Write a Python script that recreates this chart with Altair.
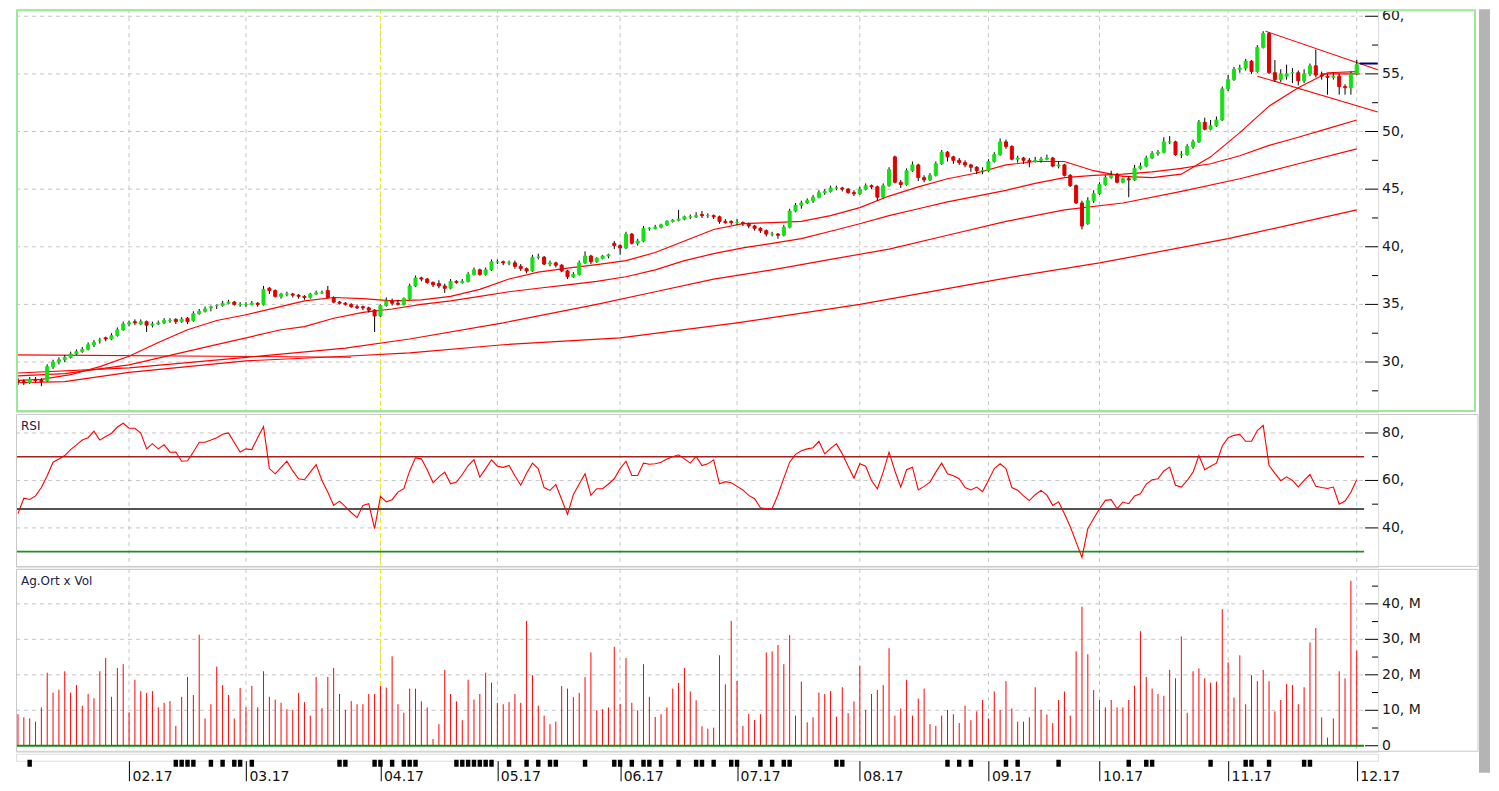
import altair as alt
import pandas as pd

# ---------------- data ----------------
opens = [28.4, 28.3, 28.2, 28.5, 28.4, 28.4, 29.6, 30.0, 30.2, 30.4,
         30.7, 30.9, 31.1, 31.5, 31.9, 32.1, 32.0, 32.3, 32.8, 33.3,
         33.5, 33.3, 33.5, 33.2, 33.3, 33.4, 33.6, 33.7, 33.5, 33.8,
         33.6, 34.2, 34.4, 34.7, 34.9, 34.9, 35.1, 35.2, 35.0, 35.0,
         35.0, 35.1, 35.0, 36.4, 36.2, 35.7, 35.9, 35.9, 35.8, 35.7,
         35.6, 35.9, 36.0, 36.2, 35.6, 35.2, 35.1, 35.0, 34.8, 34.8,
         34.7, 34.5, 34.0, 34.9, 35.3, 35.1, 35.0, 35.5, 36.6, 37.3,
         37.2, 36.9, 36.8, 36.6, 36.4, 37.0, 36.9, 37.0, 37.6, 38.0,
         37.6, 38.0, 38.7, 38.7, 38.6, 38.6, 38.3, 38.1, 37.9, 39.1,
         39.1, 38.5, 38.6, 38.4, 37.9, 37.4, 37.6, 38.6, 39.2, 38.7,
         39.0, 39.2, 40.3, 40.1, 39.9, 41.1, 40.3, 40.5, 41.6, 41.6,
         41.7, 41.9, 42.2, 42.3, 42.4, 42.6, 42.6, 42.8, 42.7, 42.7,
         42.6, 42.2, 42.2, 42.1, 42.1, 42.0, 41.8, 41.6, 41.4, 41.1,
         41.1, 41.0, 41.7, 43.1, 43.6, 43.8, 44.0, 44.3, 44.7, 44.8,
         45.1, 45.1, 45.0, 44.7, 44.6, 45.0, 45.3, 45.2, 44.3, 45.3,
         47.8, 45.6, 45.4, 46.6, 47.1, 46.0, 45.8, 46.2, 47.2, 48.2,
         47.8, 47.5, 47.3, 47.1, 46.9, 46.6, 46.6, 47.4, 48.0, 49.1,
         48.7, 47.6, 47.7, 47.5, 47.4, 47.5, 47.6, 47.7, 47.0, 47.1,
         46.2, 45.3, 43.8, 42.0, 44.0, 44.6, 45.4, 46.0, 46.2, 45.6,
         45.9, 45.8, 46.8, 47.0, 47.7, 48.1, 48.2, 49.1, 49.1, 48.0,
         48.0, 48.7, 49.1, 50.8, 50.2, 50.5, 51.0, 53.7, 54.5, 55.4,
         55.5, 56.1, 55.2, 57.3, 58.5, 55.1, 54.5, 54.8, 55.1, 55.1,
         54.4, 55.0, 55.7, 54.9, 54.8, 54.7, 54.8, 53.9, 53.8, 55.0]
highs = [28.6, 28.5, 28.7, 28.7, 28.6, 29.8, 30.2, 30.4, 30.6, 30.9,
         31.1, 31.3, 31.7, 31.9, 32.1, 32.2, 32.5, 33.0, 33.5, 33.6,
         33.7, 33.7, 33.6, 33.5, 33.6, 33.8, 33.8, 33.8, 33.9, 33.9,
         34.4, 34.6, 34.8, 34.9, 35.0, 35.3, 35.4, 35.3, 35.2, 35.2,
         35.3, 35.2, 36.6, 36.5, 36.3, 36.0, 36.1, 36.0, 35.9, 35.8,
         36.0, 36.2, 36.2, 36.6, 35.7, 35.3, 35.2, 35.1, 35.0, 34.9,
         34.8, 34.6, 35.0, 35.6, 35.5, 35.4, 35.6, 36.8, 37.5, 37.4,
         37.3, 37.0, 37.1, 36.8, 37.2, 37.1, 37.2, 37.8, 38.2, 38.1,
         38.2, 38.9, 38.9, 38.8, 38.8, 38.8, 38.5, 38.2, 39.3, 39.4,
         39.2, 38.8, 38.7, 38.5, 38.0, 37.8, 38.8, 39.6, 39.3, 39.1,
         39.3, 39.4, 40.5, 40.2, 41.3, 41.2, 40.7, 41.8, 41.7, 41.9,
         42.0, 42.3, 42.4, 43.2, 42.7, 42.8, 43.0, 43.1, 42.9, 42.8,
         42.7, 42.4, 42.3, 42.4, 42.2, 42.1, 41.9, 41.7, 41.5, 41.3,
         41.2, 41.9, 43.3, 43.8, 44.0, 44.2, 44.5, 44.9, 45.0, 45.3,
         45.3, 45.2, 45.1, 44.9, 45.2, 45.5, 45.4, 45.3, 45.5, 46.9,
         47.9, 45.8, 46.8, 47.4, 47.2, 46.2, 46.4, 47.4, 48.4, 48.3,
         47.9, 47.7, 47.5, 47.2, 47.0, 46.9, 47.6, 48.2, 49.4, 49.3,
         48.8, 47.9, 47.8, 47.7, 47.8, 47.8, 48.0, 47.8, 47.4, 47.2,
         46.3, 45.4, 44.0, 44.3, 44.9, 45.6, 46.2, 46.6, 46.4, 46.0,
         46.1, 47.1, 47.3, 47.9, 48.3, 48.4, 49.5, 49.6, 49.2, 48.3,
         48.9, 49.3, 51.0, 51.2, 51.0, 51.3, 53.9, 54.9, 55.6, 55.8,
         56.3, 56.2, 57.5, 58.7, 58.6, 56.2, 55.4, 55.8, 55.5, 55.3,
         55.4, 55.9, 57.1, 55.2, 55.0, 55.1, 55.0, 54.1, 55.2, 56.2]
lows = [28.0, 28.0, 28.1, 28.2, 27.9, 28.3, 29.4, 29.8, 30.0, 30.3,
        30.6, 30.8, 31.0, 31.3, 31.6, 31.8, 31.9, 32.2, 32.7, 33.1,
        33.2, 33.2, 32.6, 33.0, 33.2, 33.3, 33.4, 33.3, 33.4, 33.3,
        33.5, 34.1, 34.3, 34.4, 34.6, 34.8, 35.0, 34.9, 34.8, 34.8,
        34.9, 34.8, 34.9, 35.9, 35.6, 35.5, 35.7, 35.6, 35.5, 35.4,
        35.5, 35.8, 35.9, 35.5, 35.1, 35.0, 34.9, 34.7, 34.6, 34.5,
        34.3, 32.6, 33.9, 34.8, 34.9, 34.9, 34.9, 35.4, 36.5, 37.0,
        36.8, 36.5, 36.4, 36.0, 36.3, 36.8, 36.8, 36.9, 37.5, 37.5,
        37.5, 37.9, 38.5, 38.4, 38.4, 38.1, 37.9, 37.7, 37.8, 38.9,
        38.4, 38.3, 38.2, 37.8, 37.2, 37.3, 37.5, 38.5, 38.5, 38.6,
        38.9, 39.0, 39.8, 39.3, 39.8, 40.2, 40.1, 40.4, 41.4, 41.5,
        41.6, 41.8, 42.1, 42.2, 42.3, 42.4, 42.5, 42.5, 42.5, 42.4,
        42.0, 42.0, 41.9, 41.9, 41.8, 41.6, 41.4, 41.2, 40.9, 40.9,
        40.7, 40.9, 41.6, 43.0, 43.3, 43.7, 43.8, 44.2, 44.5, 44.7,
        44.9, 44.8, 44.6, 44.4, 44.5, 44.9, 45.0, 44.0, 44.2, 45.2,
        45.5, 45.1, 45.3, 46.5, 45.7, 45.6, 45.7, 46.1, 47.1, 47.4,
        47.2, 47.1, 46.9, 46.5, 46.3, 46.3, 46.5, 47.3, 47.9, 48.5,
        47.5, 47.3, 47.2, 46.9, 47.3, 47.3, 47.5, 46.9, 46.8, 46.1,
        45.2, 43.7, 41.5, 41.9, 43.8, 44.5, 45.3, 45.9, 45.5, 45.5,
        44.3, 45.7, 46.7, 46.9, 47.6, 47.9, 48.1, 48.9, 47.9, 47.7,
        47.9, 48.5, 49.0, 50.1, 50.1, 50.4, 50.9, 53.5, 54.4, 55.1,
        55.3, 55.0, 55.1, 57.2, 55.0, 54.3, 54.3, 54.5, 54.2, 54.0,
        54.2, 54.8, 54.7, 54.5, 53.2, 54.5, 53.2, 53.2, 53.2, 54.9]
closes = [28.3, 28.2, 28.5, 28.4, 28.3, 29.6, 30.0, 30.2, 30.4, 30.7,
          30.9, 31.1, 31.5, 31.7, 31.9, 32.0, 32.3, 32.8, 33.3, 33.4,
          33.4, 33.5, 33.2, 33.3, 33.4, 33.6, 33.6, 33.5, 33.7, 33.5,
          34.2, 34.4, 34.6, 34.8, 34.9, 35.1, 35.2, 35.0, 35.0, 35.0,
          35.1, 35.0, 36.3, 36.2, 35.7, 35.9, 35.9, 35.8, 35.7, 35.6,
          35.9, 36.0, 36.0, 35.6, 35.2, 35.1, 35.0, 34.8, 34.7, 34.7,
          34.5, 34.0, 34.9, 35.3, 35.1, 35.0, 35.5, 36.6, 37.3, 37.2,
          36.9, 36.7, 36.6, 36.4, 37.0, 36.9, 37.0, 37.6, 38.0, 37.6,
          38.0, 38.7, 38.7, 38.6, 38.6, 38.3, 38.1, 37.9, 39.1, 39.1,
          38.5, 38.6, 38.4, 37.9, 37.4, 37.6, 38.6, 39.2, 38.7, 39.0,
          39.2, 39.3, 40.1, 39.9, 41.1, 40.3, 40.5, 41.6, 41.6, 41.7,
          41.9, 42.2, 42.3, 42.4, 42.6, 42.6, 42.7, 42.7, 42.7, 42.6,
          42.2, 42.1, 42.1, 42.1, 42.0, 41.8, 41.6, 41.4, 41.1, 41.1,
          41.0, 41.7, 43.1, 43.6, 43.8, 44.0, 44.3, 44.7, 44.8, 45.1,
          45.1, 45.0, 44.7, 44.6, 45.0, 45.3, 45.2, 44.3, 45.3, 46.7,
          45.6, 45.4, 46.6, 47.1, 46.0, 45.8, 46.2, 47.2, 48.2, 47.8,
          47.5, 47.3, 47.1, 46.9, 46.6, 46.6, 47.4, 48.0, 49.1, 48.7,
          47.6, 47.7, 47.5, 47.4, 47.5, 47.6, 47.7, 47.0, 47.1, 46.2,
          45.3, 43.8, 41.8, 44.0, 44.6, 45.4, 46.0, 46.2, 45.6, 45.9,
          45.8, 46.8, 47.0, 47.7, 48.1, 48.2, 49.1, 49.1, 48.0, 48.0,
          48.7, 49.1, 50.8, 50.2, 50.5, 51.0, 53.7, 54.5, 55.4, 55.5,
          56.1, 55.2, 57.3, 58.5, 55.1, 54.5, 55.0, 55.0, 55.1, 54.4,
          55.0, 55.7, 54.9, 54.8, 54.7, 54.8, 53.9, 53.8, 55.0, 55.8]

rsi_vals = [46, 52.5, 52, 53.5, 57, 62, 67.7, 69, 70.5, 73,
            75, 77, 78, 80.8, 77, 78.5, 79.9, 82.5, 84.1, 82,
            82, 80, 73.3, 75.5, 73.3, 75, 71.9, 72, 68.1, 68.3,
            72, 76.1, 76.1, 77, 78, 79.5, 80, 76, 72, 73.3,
            73, 78, 82.7, 65, 62.8, 65.5, 68.1, 64, 60.7, 60.3,
            63.5, 66.7, 60, 55, 49.5, 51.3, 49, 46.5, 44.3, 49.5,
            50.2, 39.7, 53.3, 51, 51.9, 55.1, 56.5, 64, 69.5, 69.1,
            64.5, 59, 61.5, 63.5, 58.6, 59.3, 62.5, 66.3, 68.7, 61.4,
            65, 68.7, 66, 65.5, 66.3, 62, 58, 63, 67.3, 64.9,
            57, 55.8, 58.3, 52, 45.7, 54, 58.5, 62.8, 53.7, 56.5,
            56.5, 58.5, 60.7, 65, 68.1, 62.1, 62.1, 67.3, 66.8, 67,
            67.7, 69, 70, 70.8, 69.1, 67.3, 70.1, 66.3, 67, 68.7,
            58.6, 59.5, 59, 57.5, 56, 53.7, 52.3, 48.5, 48.1, 48.1,
            54, 61, 67.7, 71, 72.5, 73.3, 73.8, 76.5, 71.2, 73.5,
            75.4, 71.2, 66, 61, 67, 66, 60, 56.5, 63.5, 71.9,
            64, 57.2, 64.5, 65.6, 56, 57.5, 59.3, 63.5, 67.3, 62.8,
            62, 60.7, 57, 56, 57.2, 55.3, 60, 65, 67, 65,
            57, 55.9, 53.5, 51.5, 54, 55.8, 53.8, 49.5, 51, 46,
            40.5, 34, 27.5, 39.7, 44, 48.1, 51.6, 51.9, 48.1, 50.9,
            50.2, 53.5, 54.4, 58.5, 60.3, 60.7, 64, 65.6, 58, 57.2,
            60, 63.5, 70.5, 64.5, 66, 67.3, 74.5, 78, 79, 79.4,
            76.5, 76.5, 81, 83.2, 66.3, 63, 59.9, 61.5, 60, 57.3,
            60, 62.5, 57.5, 57, 56.6, 57.2, 50, 51.3, 55, 60.3]

volume_m = [8.9, 8.0, 7.7, 6.8, 10.8, 20.6, 15.0, 15.8, 21.0, 15.0,
            17.1, 11.3, 14.6, 13.4, 21.0, 24.7, 13.8, 21.9, 23.0, 9.4,
            18.6, 15.4, 14.9, 15.4, 10.8, 12.1, 12.6, 5.6, 13.8, 19.4,
            14.3, 31.3, 7.7, 11.7, 22.3, 17.1, 14.3, 7.7, 16.3, 10.8,
            16.9, 10.8, 21.0, 13.8, 13.0, 12.1, 10.3, 10.1, 14.9, 12.3,
            8.5, 19.4, 10.6, 19.4, 21.9, 14.6, 10.1, 12.6, 11.7, 11.7,
            14.6, 14.6, 16.9, 16.4, 25.2, 11.7, 9.3, 16.1, 16.1, 12.5,
            10.8, 1.9, 6.1, 21.4, 14.6, 12.5, 7.2, 18.6, 13.0, 14.6,
            20.6, 17.8, 12.1, 11.7, 12.3, 14.6, 12.1, 35.2, 19.9, 11.3,
            8.5, 6.1, 6.8, 16.8, 16.1, 13.7, 14.9, 19.4, 26.3, 10.0,
            10.3, 10.8, 27.9, 11.8, 24.7, 12.1, 10.0, 23.0, 13.8, 8.1,
            8.9, 10.8, 16.1, 17.7, 21.9, 15.3, 12.8, 5.5, 4.8, 5.1,
            25.5, 17.3, 35.2, 18.3, 5.6, 9.0, 7.3, 8.9, 26.3, 26.6,
            28.4, 23.0, 31.2, 8.5, 18.1, 6.6, 8.0, 15.0, 14.6, 15.4,
            8.2, 16.5, 9.2, 12.5, 22.5, 10.1, 14.6, 15.7, 17.1, 27.5,
            8.5, 10.5, 18.6, 8.5, 13.3, 16.1, 6.1, 5.6, 8.5, 10.1,
            8.9, 6.4, 11.3, 7.2, 9.7, 12.9, 7.7, 15.3, 10.1, 18.2,
            10.5, 6.8, 6.8, 8.0, 16.5, 10.1, 8.8, 6.4, 12.9, 15.3,
            8.5, 26.6, 39.2, 25.8, 15.7, 12.9, 10.8, 12.9, 10.8, 10.8,
            12.9, 16.9, 32.3, 19.4, 16.1, 14.6, 14.1, 21.4, 19.0, 30.8,
            9.3, 21.0, 21.8, 19.0, 17.8, 18.1, 38.5, 23.5, 13.6, 25.5,
            11.7, 19.9, 18.2, 21.4, 18.2, 9.7, 12.9, 17.4, 17.1, 11.7,
            16.5, 29.1, 33.2, 8.0, 2.3, 7.7, 21.0, 19.0, 46.5, 26.8]

ma20_pts = [(0, 28.4), (4, 28.5), (9, 28.9), (14, 29.6), (19, 30.5), (24, 31.7), (29, 32.8),
            (34, 33.6), (39, 34.1), (44, 34.7), (49, 35.3), (54, 35.6), (59, 35.5), (64, 35.3),
            (69, 35.4), (74, 35.7), (79, 36.3), (84, 37.2), (89, 37.8), (94, 38.15), (99, 38.45),
            (104, 38.8), (109, 39.5), (114, 40.5), (119, 41.5), (124, 42.0), (129, 42.1),
            (134, 42.2), (139, 42.7), (144, 43.4), (149, 44.4), (154, 45.2), (159, 45.9),
            (164, 46.4), (169, 47.1), (174, 47.4), (179, 47.4), (184, 46.6), (189, 46.1),
            (194, 46.0), (199, 46.3), (204, 47.8), (209, 49.9), (214, 52.2), (219, 53.8),
            (224, 55.1), (229, 55.2)]
ma50_pts = [(0, 28.8), (8, 29.0), (19, 29.75), (33, 31.4), (45, 32.8), (49, 33.07), (54, 33.8),
            (59, 34.3), (64, 34.6), (69, 35.0), (74, 35.3), (79, 35.7), (84, 36.1), (89, 36.4),
            (94, 36.7), (99, 37.0), (104, 37.4), (109, 38.0), (114, 38.8), (119, 39.4),
            (124, 39.9), (129, 40.3), (134, 40.7), (139, 41.35), (144, 42.0), (149, 42.7),
            (154, 43.3), (159, 43.9), (164, 44.4), (169, 44.9), (174, 45.5), (179, 46.0),
            (184, 46.2), (189, 46.3), (194, 46.5), (199, 46.8), (204, 47.2), (209, 47.9),
            (214, 48.8), (219, 49.5), (224, 50.25), (229, 51.0)]
ma100_pts = [(0, 29.05), (19, 29.5), (39, 30.4), (56, 31.2), (67, 32.0), (83, 33.4), (99, 35.0),
             (109, 36.1), (119, 37.2), (129, 38.0), (139, 38.9), (149, 39.8), (159, 41.0),
             (169, 42.2), (179, 43.2), (189, 43.8), (199, 44.8), (209, 45.9), (219, 47.2),
             (229, 48.5)]
ma200_pts = [(0, 28.2), (8, 28.3), (19, 29.1), (39, 30.1), (56, 30.5), (67, 30.8), (83, 31.5),
             (103, 32.1), (123, 33.4), (144, 35.0), (168, 37.2), (185, 38.6), (207, 40.7),
             (229, 43.2)]

drawn_lines = {
    "support": [(-0.34, 30.62), (57.0, 30.42)],
    "flag_top": [(213.4, 58.7), (232.6, 55.35)],
    "flag_bottom": [(212.0, 54.8), (232.6, 51.7)],
    "flat": [(223.0, 55.0), (229.5, 55.0)],
}
last_price = [(229.5, 55.9), (232.6, 55.9)]

month_idx = [19, 39, 62, 82, 103, 123, 144, 166, 185, 207, 229]
month_lbl = ["02.17", "03.17", "04.17", "05.17", "06.17", "07.17",
             "08.17", "09.17", "10.17", "11.17", "12.17"]
event_bars = [2, 27, 28, 29, 30, 33, 35, 37, 38, 40, 55, 56, 61, 62, 64, 66, 67, 68,
              75, 76, 77, 78, 79, 80, 81, 84, 87, 89, 91, 92, 97, 102, 103, 105, 107,
              108, 110, 113, 116, 117, 119, 122, 123, 127, 129, 131, 132, 140, 141, 159,
              161, 163, 169, 171, 178, 190, 193, 194, 204, 210, 211, 214, 220, 221]
cursor_bar = 62

price_ticks = [30, 35, 40, 45, 50, 55, 60]
price_labels = ["30,", "35,", "40,", "45,", "50,", "55,", "60,"]
price_minor = [27.5, 32.5, 37.5, 42.5, 47.5, 52.5, 57.5]
rsi_ticks = [40, 60, 80]
rsi_labels = ["40,", "60,", "80,"]
rsi_minor = [50, 70]
rsi_levels = [70, 48, 30]
rsi_level_colors = ["#a32020", "#1a1a1a", "#1f8f1f"]
vol_ticks = [0, 10, 20, 30, 40]
vol_labels = ["0", "10, M", "20, M", "30, M", "40, M"]
vol_minor = [5, 15, 25, 35, 45]

# ---------------- layout / style ----------------
FONT = "DejaVu Sans"
W = 1363
HP, HR, HV, HM = 403, 153, 183, 7
GRID = "#c4c4c4"
LINE_RED = "#ff0000"
UP = "#17df17"
DOWN = "#e00000"

XS = alt.Scale(domain=[-0.34, 232.65], nice=False, zero=False)
PS = alt.Scale(domain=[25.665, 60.607], nice=False, zero=False)
RS = alt.Scale(domain=[23.58, 88.0], nice=False, zero=False)
VS = alt.Scale(domain=[-1.69, 49.86], nice=False, zero=False)


def xq(field):
    return alt.X(f"{field}:Q", scale=XS, axis=None)


def yq(field, scale):
    return alt.Y(f"{field}:Q", scale=scale, axis=None)


def right_axis(values):
    return alt.Axis(orient="right", values=values, labels=False, ticks=False, grid=False,
                    domain=True, domainColor="#000000", domainWidth=1, title=None)


def pts_df(d):
    rows = []
    for name, pts in d.items():
        for i, v in pts:
            rows.append({"s": name, "i": i, "v": v})
    return pd.DataFrame(rows)


one = pd.DataFrame({"k": [0]})


def base_layers(H, scale, grid_vals, major, labels, minor):
    hgrid = alt.Chart(pd.DataFrame({"v": grid_vals})).mark_rule(
        color=GRID, strokeDash=[4, 4], strokeWidth=1).encode(
        y=alt.Y("v:Q", scale=scale, axis=right_axis(major)), x=alt.value(0), x2=alt.value(W - 14))
    vgrid = alt.Chart(pd.DataFrame({"m": month_idx})).mark_rule(
        color=GRID, strokeDash=[4, 4], strokeWidth=1).encode(x=xq("m"))
    cursor = alt.Chart(pd.DataFrame({"m": [cursor_bar]})).mark_rule(
        color="#f2f200", strokeDash=[4, 3], strokeWidth=1).encode(x=xq("m"))
    tmaj = alt.Chart(pd.DataFrame({"v": major})).mark_rule(color="#000000").encode(
        y=yq("v", scale), x=alt.value(W - 13), x2=alt.value(W))
    tmin = alt.Chart(pd.DataFrame({"v": minor})).mark_rule(color="#000000").encode(
        y=yq("v", scale), x=alt.value(W - 6), x2=alt.value(W))
    tlab = alt.Chart(pd.DataFrame({"v": major, "t": labels})).mark_text(
        align="left", baseline="middle", font=FONT, fontSize=14, color="#1a1a1a").encode(
        y=yq("v", scale), x=alt.value(W + 4), text="t:N")
    strip = alt.Chart(one).mark_rect(color="#b4b4b4").encode(
        x=alt.value(W + 101), x2=alt.value(W + 112), y=alt.value(0), y2=alt.value(H + 2))
    return [hgrid, vgrid, cursor, tmaj, tmin, tlab, strip]


# ---------------- price panel ----------------
N = len(closes)
candles = pd.DataFrame({"i": list(range(N)), "o": opens, "h": highs, "l": lows, "c": closes})
ma_df = pts_df({"ma20": ma20_pts, "ma50": ma50_pts, "ma100": ma100_pts, "ma200": ma200_pts})
drawn_df = pts_df(drawn_lines)
last_df = pts_df({"last": last_price})

ma_layer = alt.Chart(ma_df).mark_line(color=LINE_RED, strokeWidth=1.2).encode(
    x=xq("i"), y=yq("v", PS), detail="s:N")
drawn_layer = alt.Chart(drawn_df).mark_line(color=LINE_RED, strokeWidth=1.1).encode(
    x=xq("i"), y=yq("v", PS), detail="s:N")
last_layer = alt.Chart(last_df).mark_line(color="#00007a", strokeWidth=2).encode(
    x=xq("i"), y=yq("v", PS))
wicks = alt.Chart(candles).mark_rule(color="#000000", strokeWidth=1).encode(
    x=xq("i"), y=yq("l", PS), y2="h:Q")
updown = alt.condition("datum.c >= datum.o", alt.value(UP), alt.value(DOWN))
bodies = alt.Chart(candles).transform_calculate(
    x0="datum.i - 0.26", x1="datum.i + 0.26").mark_rect(strokeWidth=1).encode(
    x=xq("x0"), x2="x1:Q", y=yq("o", PS), y2="c:Q", fill=updown, stroke=updown)
price_frame = alt.Chart(one).mark_rect(fillOpacity=0, stroke="#9ae89a", strokeWidth=2).encode(
    x=alt.value(1), x2=alt.value(W + 97), y=alt.value(1), y2=alt.value(HP - 1))

price = alt.layer(
    *base_layers(HP, PS, price_ticks, price_ticks, price_labels, price_minor),
    ma_layer, drawn_layer, last_layer, wicks, bodies, price_frame
).properties(width=W, height=HP)

# ---------------- RSI panel ----------------
rsi_df = pd.DataFrame({"i": list(range(N)), "r": rsi_vals})
lvl_df = pd.DataFrame({"v": rsi_levels, "col": rsi_level_colors})
levels = alt.Chart(lvl_df).mark_rule(strokeWidth=1.6).encode(
    y=yq("v", RS), x=alt.value(0), x2=alt.value(W - 14), color=alt.Color("col:N", scale=None))
rsi_line = alt.Chart(rsi_df).mark_line(color=LINE_RED, strokeWidth=1.1).encode(
    x=xq("i"), y=yq("r", RS))
rsi_text = alt.Chart(one).mark_text(text="RSI", align="left", baseline="middle", font=FONT,
                                    fontSize=12, color="#20204a").encode(
    x=alt.value(5), y=alt.value(12))
rsi_frame = alt.Chart(one).mark_rect(fillOpacity=0, stroke="#c8c8c8", strokeWidth=1).encode(
    x=alt.value(0.5), x2=alt.value(W + 100), y=alt.value(0.5), y2=alt.value(HR - 0.5))

rsi = alt.layer(
    *base_layers(HR, RS, rsi_ticks, rsi_ticks, rsi_labels, rsi_minor),
    levels, rsi_line, rsi_text, rsi_frame
).properties(width=W, height=HR)

# ---------------- volume panel ----------------
vol_df = pd.DataFrame({"i": list(range(N)), "vm": volume_m, "z": [0] * N})
vol_bars = alt.Chart(vol_df).mark_rule(color=LINE_RED, strokeWidth=1).encode(
    x=xq("i"), y=yq("vm", VS), y2="z:Q")
zero_line = alt.Chart(pd.DataFrame({"v": [0]})).mark_rule(color="#138a13", strokeWidth=2).encode(
    y=yq("v", VS), x=alt.value(0), x2=alt.value(W - 14))
vol_text = alt.Chart(one).mark_text(text="Ag.Ort x Vol", align="left", baseline="middle",
                                    font=FONT, fontSize=12, color="#20204a").encode(
    x=alt.value(5), y=alt.value(12))
vol_frame = alt.Chart(one).mark_rect(fillOpacity=0, stroke="#c8c8c8", strokeWidth=1).encode(
    x=alt.value(0.5), x2=alt.value(W + 100), y=alt.value(0.5), y2=alt.value(HV - 0.5))

volume = alt.layer(
    *base_layers(HV, VS, vol_ticks[1:], vol_ticks, vol_labels, vol_minor),
    vol_bars, zero_line, vol_text, vol_frame
).properties(width=W, height=HV)

# ---------------- event strip + month axis ----------------
lbl_expr = "[" + ",".join(f"'{s}'" for s in month_lbl) + "][indexof([" + \
    ",".join(str(m) for m in month_idx) + "], datum.value)]"
month_axis = alt.Axis(values=month_idx, labelExpr=lbl_expr, orient="bottom", domain=False,
                      ticks=True, tickSize=20, tickColor="#000000", tickWidth=1, grid=False,
                      labelAlign="left", labelBaseline="middle", labelPadding=-4.5,
                      labelOffset=3, labelFlush=False, labelFont=FONT, labelFontSize=14,
                      labelColor="#111111", title=None)
events = alt.Chart(pd.DataFrame({"i": event_bars})).transform_calculate(
    x0="datum.i - 0.38", x1="datum.i + 0.38").mark_rect(color="#000000").encode(
    x=alt.X("x0:Q", scale=XS, axis=month_axis), x2="x1:Q", y=alt.value(6), y2=alt.value(13))
strip_bar = alt.Chart(one).mark_rect(color="#b4b4b4").encode(
    x=alt.value(W + 101), x2=alt.value(W + 112), y=alt.value(-2), y2=alt.value(HM + 12))

strip = alt.layer(events, strip_bar).properties(width=W, height=HM)

chart = alt.vconcat(price, rsi, volume, strip, spacing=2, bounds="flush").properties(
    padding={"left": 5, "top": 0, "right": 0, "bottom": 0}
).configure_view(strokeWidth=0).configure(background="#ffffff")

chart.save("out.html", embed_options={"renderer": "svg", "actions": False})
